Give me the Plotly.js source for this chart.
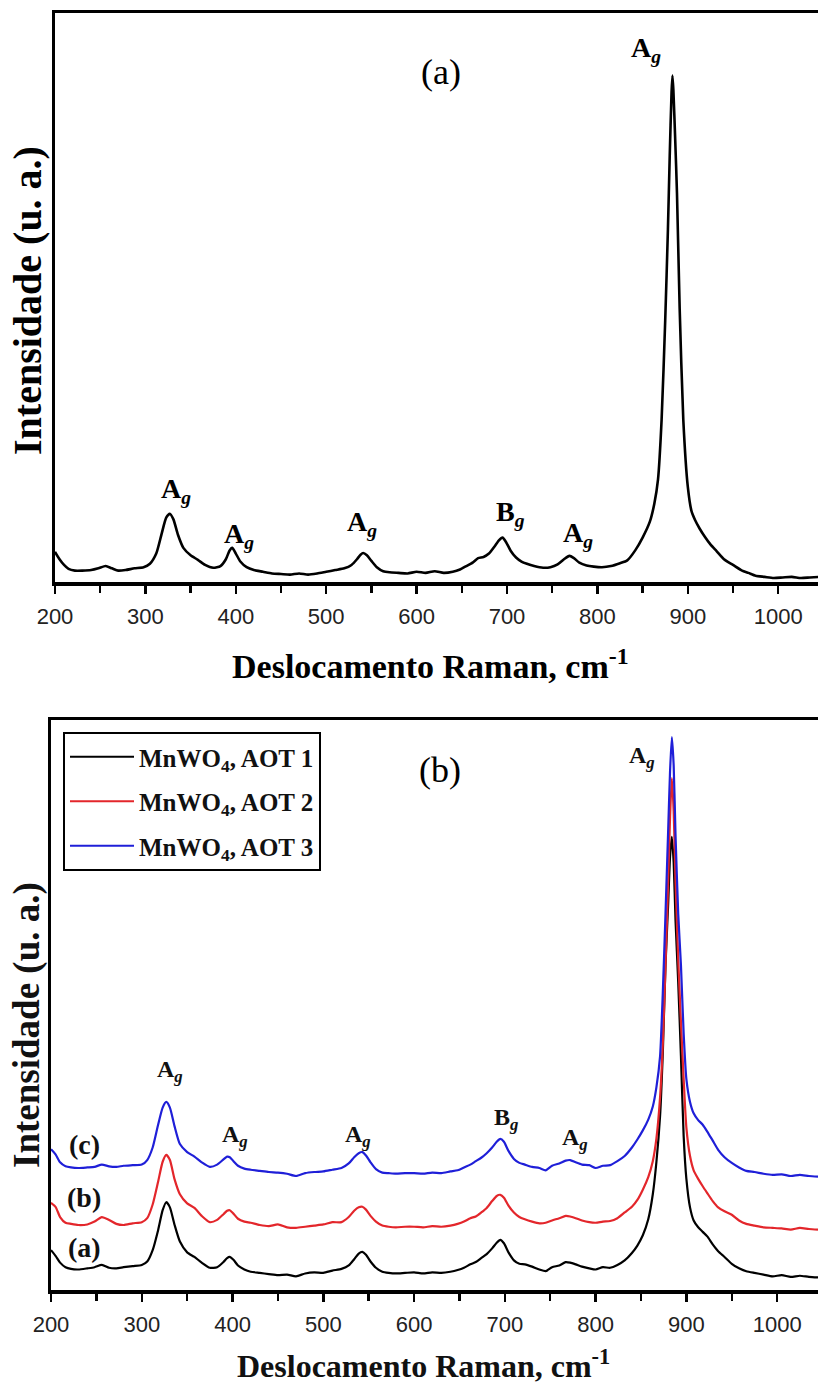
<!DOCTYPE html>
<html>
<head>
<meta charset="utf-8">
<script src="https://cdn.plot.ly/plotly-3.0.1.min.js"></script>
<style>
  html, body { margin: 0; padding: 0; background: #ffffff; }
  #chart { width: 818px; height: 1383px; }
</style>
</head>
<body>
<div id="chart"></div>
<script>
// Raman spectrum of MnWO4 (panel a)
const shiftTop = [200,205,210,215,222,230,240,248,256,263,270,278,288,298,305,312,318,323,327,331,336,342,350,358,366,375,383,389,393,396,400,405,412,420,430,440,450,460,470,480,490,500,510,520,528,534,538,541,545,550,556,563,570,580,590,600,610,620,630,640,648,655,662,668,674,680,686,691,695,699,704,710,716,722,730,740,748,756,763,769,774,780,788,796,805,815,825,833,842,850,858,863,867,871,875,878,880,882,883,884,886,888,891,895,900,904,908,913,919,925,932,940,950,960,967,975,985,995,1005,1015,1025,1035,1045];
const intensityTop = [5.3,4.0,3.0,2.3,2.0,2.0,2.1,2.4,2.8,2.4,2.0,2.1,2.4,2.6,3.2,5.0,8.5,11.3,12.0,11.0,8.3,6.0,4.7,3.9,3.0,2.5,2.8,4.0,5.5,6.0,5.0,3.6,2.6,2.1,1.8,1.5,1.4,1.3,1.5,1.3,1.5,1.8,2.1,2.4,3.0,4.0,4.8,5.1,4.7,3.7,2.6,1.9,1.7,1.6,1.5,1.8,1.6,1.9,1.6,1.8,2.2,2.8,3.4,4.2,4.4,5.0,6.2,7.3,7.8,7.0,5.5,4.3,3.6,3.2,2.8,2.5,2.6,3.1,4.0,4.6,4.2,3.4,2.9,2.7,2.6,2.8,3.3,3.8,5.6,7.8,10.6,13.8,18.0,28.5,46.0,62.0,75.0,86.0,89.0,86.5,78.0,68.4,48.0,28.5,16.7,12.5,10.9,9.4,7.9,6.6,5.4,4.0,3.0,2.0,1.6,1.1,0.9,0.7,0.8,0.9,0.7,0.8,0.9];

// Raman spectra of MnWO4 for the three AOT preparations (panel b)
const shiftBottom = [200,205,210,216,222,230,240,248,256,264,272,280,290,300,306,312,318,323,327,331,336,342,350,358,366,375,383,390,394,397,401,406,413,420,430,440,450,460,470,480,490,500,510,520,528,534,539,543,547,552,558,565,572,580,590,600,610,620,630,640,648,655,662,668,674,680,686,691,695,699,704,710,716,722,730,738,745,752,760,767,772,778,785,793,800,808,816,824,832,840,846,852,858,863,867,871,874,877,880,882,884,886,888,891,894,897,900,904,908,913,918,923,929,935,942,950,958,966,975,985,995,1005,1015,1025,1035,1045];
const intensityAOT1 = [7.0,6.0,4.8,4.0,3.7,3.6,3.8,4.0,4.4,3.9,3.8,4.0,4.2,4.4,5.0,7.0,10.5,14.0,15.4,14.5,11.5,8.5,6.6,5.8,4.8,3.9,4.0,4.9,5.6,5.8,5.3,4.3,3.6,3.2,3.0,2.8,2.6,2.7,2.4,2.9,3.1,3.0,3.4,3.7,4.3,5.4,6.4,6.7,6.2,5.0,3.9,3.2,3.0,2.9,3.0,3.1,2.9,3.1,3.0,3.2,3.5,3.9,4.5,4.9,5.6,6.3,7.3,8.3,8.8,8.2,6.6,5.2,4.6,4.5,4.1,3.6,3.3,4.0,4.3,4.9,4.8,4.5,4.1,3.8,3.6,4.0,3.9,4.4,5.2,6.5,7.8,9.6,12.4,16.8,22.5,30.5,41.5,57.0,68.0,76.0,79.5,75.0,65.0,54.0,41.0,27.0,19.5,14.5,12.2,11.0,10.2,9.4,8.0,6.8,5.8,4.6,3.8,3.3,3.0,2.7,2.4,2.6,2.3,2.5,2.3,2.2];
const intensityAOT2 = [15.3,14.6,12.8,11.8,11.6,11.4,11.5,12.0,12.8,12.3,11.6,11.4,11.7,11.9,12.6,15.0,19.0,22.5,23.7,22.8,19.5,16.8,15.2,14.4,13.0,11.9,12.3,13.3,13.9,14.0,13.4,12.5,12.0,11.8,11.4,11.2,11.5,11.0,10.9,11.1,11.3,11.5,11.9,11.9,12.8,13.9,14.5,14.6,14.1,13.0,12.0,11.3,11.1,11.0,11.1,11.1,11.0,11.2,11.1,11.3,11.6,12.0,12.6,12.9,13.6,14.4,15.6,16.5,16.7,16.2,14.8,13.6,12.8,12.4,12.0,11.7,11.8,12.2,12.6,13.0,12.9,12.6,12.2,11.9,11.8,12.0,12.1,12.6,13.6,14.6,15.8,17.6,19.8,22.6,26.6,33.8,43.0,57.0,72.0,83.0,89.8,84.0,72.0,58.0,47.0,37.0,28.5,23.5,21.0,19.5,18.2,17.0,15.6,14.5,13.8,13.2,12.2,11.6,11.3,11.0,10.9,10.8,10.6,10.9,10.7,10.6];
const intensityAOT3 = [24.7,23.8,22.4,21.7,21.5,21.4,21.5,21.6,22.0,21.7,21.6,21.8,21.9,22.0,22.8,25.0,29.0,32.0,33.0,32.0,28.8,25.6,24.2,23.4,22.4,21.6,22.0,22.9,23.4,23.3,22.6,21.8,21.3,21.1,20.9,20.7,20.6,20.4,20.0,20.5,20.7,20.8,21.1,21.4,22.2,23.3,24.0,24.2,23.6,22.4,21.2,20.6,20.5,20.4,20.5,20.5,20.4,20.6,20.5,20.8,21.0,21.5,22.0,22.6,23.2,24.0,25.0,26.0,26.5,26.0,24.4,23.0,22.3,22.0,21.6,21.4,21.0,21.8,22.2,22.7,22.8,22.4,22.0,21.9,21.4,21.8,21.9,22.6,23.5,25.0,26.4,28.0,29.9,32.2,35.6,41.0,52.0,66.0,81.0,91.0,97.0,92.0,80.0,66.0,57.0,45.0,37.0,33.0,31.0,29.8,29.0,27.8,26.2,24.6,23.3,22.3,21.5,20.9,20.7,20.4,20.2,20.3,20.0,20.2,20.0,19.9];

const seriesNames = ['MnWO<sub>4</sub>, AOT 1', 'MnWO<sub>4</sub>, AOT 2', 'MnWO<sub>4</sub>, AOT 3'];
const seriesColors = ['#000000', '#e3262b', '#1f1fd8'];

const tickValues = [200, 300, 400, 500, 600, 700, 800, 900, 1000];
const tickLabels = ['200', '300', '400', '500', '600', '700', '800', '900', '1000'];
const minorTickValues = [250, 350, 450, 550, 650, 750, 850, 950, 1050];

// Band assignments: [label, wavenumber of label centre, intensity of label centre]
const bandLabelsTop = [
  ['<b>A</b><sub><b><i>g</i></b></sub>', 334, 16.0],
  ['<b>A</b><sub><b><i>g</i></b></sub>', 404, 8.2],
  ['<b>A</b><sub><b><i>g</i></b></sub>', 540, 10.2],
  ['<b>B</b><sub><b><i>g</i></b></sub>', 704, 12.0],
  ['<b>A</b><sub><b><i>g</i></b></sub>', 778, 8.3],
  ['<b>A</b><sub><b><i>g</i></b></sub>', 854, 93.5]
];
const bandLabelsBottom = [
  ['<b>A</b><sub><b><i>g</i></b></sub>', 331, 38.5],
  ['<b>A</b><sub><b><i>g</i></b></sub>', 403, 27.0],
  ['<b>A</b><sub><b><i>g</i></b></sub>', 538, 27.0],
  ['<b>B</b><sub><b><i>g</i></b></sub>', 701, 30.0],
  ['<b>A</b><sub><b><i>g</i></b></sub>', 777, 26.5],
  ['<b>A</b><sub><b><i>g</i></b></sub>', 851, 93.5]
];
const curveLabels = ['<b>(c)</b>', '<b>(b)</b>', '<b>(a)</b>'];
const curveLabelLevels = [25.6, 16.2, 7.5];

const W = 818, H = 1383;
const px = v => v / W;
const py = v => 1 - v / H;

const serif = 'Liberation Serif, Times New Roman, serif';
const sans = 'Liberation Sans, Arial, sans-serif';

function xAxisStyle(domainLeft, rangeEnd, anchor) {
  return {
    domain: [domainLeft, 1],
    anchor: anchor,
    range: [200, rangeEnd],
    tickmode: 'array',
    tickvals: tickValues,
    ticktext: tickLabels,
    ticks: 'outside',
    ticklen: 8,
    tickwidth: 2.5,
    tickcolor: '#000',
    tickfont: { family: sans, size: 22, color: '#222' },
    ticklabelstandoff: 4,
    minor: { tickmode: 'array', tickvals: minorTickValues, ticks: 'outside', ticklen: 7, tickwidth: 2.5, tickcolor: '#000' },
    showline: true,
    linewidth: 3.5,
    linecolor: '#000',
    mirror: true,
    showgrid: false,
    zeroline: false,
    automargin: false
  };
}
function yAxisStyle(domain, anchor) {
  return {
    domain: domain,
    anchor: anchor,
    range: [0, 100],
    showticklabels: false,
    ticks: '',
    showline: true,
    linewidth: 3.5,
    linecolor: '#000',
    showgrid: false,
    zeroline: false,
    automargin: false
  };
}

const traces = [
  {
    x: shiftTop, y: intensityTop, xaxis: 'x', yaxis: 'y',
    type: 'scatter', mode: 'lines', showlegend: false,
    line: { color: '#000', width: 2.6, shape: 'spline', smoothing: 0.6 }
  }
];
const bottomSeries = [intensityAOT1, intensityAOT2, intensityAOT3];
bottomSeries.forEach((vals, i) => {
  traces.push({
    x: shiftBottom, y: vals, xaxis: 'x2', yaxis: 'y2',
    type: 'scatter', mode: 'lines', name: seriesNames[i], legendgroup: 'g' + i,
    line: { color: seriesColors[i], width: 2.2, shape: 'spline', smoothing: 0.6 }
  });
});

const annotations = [];
bandLabelsTop.forEach(b => annotations.push({
  text: b[0], x: b[1], y: b[2], xref: 'x', yref: 'y', showarrow: false,
  xanchor: 'center', yanchor: 'middle', font: { family: serif, size: 28, color: '#000' }
}));
bandLabelsBottom.forEach(b => annotations.push({
  text: b[0], x: b[1], y: b[2], xref: 'x2', yref: 'y2', showarrow: false,
  xanchor: 'center', yanchor: 'middle', font: { family: serif, size: 24, color: '#111' }
}));
curveLabels.forEach((t, i) => annotations.push({
  text: t, x: px(84), y: curveLabelLevels[i], xref: 'paper', yref: 'y2', showarrow: false,
  xanchor: 'center', yanchor: 'middle', font: { family: serif, size: 28, color: '#111' }
}));
// Panel letters
annotations.push({ text: '(a)', x: px(441), y: py(72), xref: 'paper', yref: 'paper', showarrow: false,
  xanchor: 'center', yanchor: 'middle', font: { family: serif, size: 36, color: '#000' } });
annotations.push({ text: '(b)', x: px(440), y: py(770), xref: 'paper', yref: 'paper', showarrow: false,
  xanchor: 'center', yanchor: 'middle', font: { family: serif, size: 36, color: '#000' } });
// Axis titles
const xTitle = '<b>Deslocamento Raman, cm<sup>-1</sup></b>';
const yTitle = '<b>Intensidade (u. a.)</b>';
annotations.push({ text: xTitle, x: px(431), y: py(664), xref: 'paper', yref: 'paper', showarrow: false,
  xanchor: 'center', yanchor: 'middle', font: { family: serif, size: 34, color: '#000' } });
annotations.push({ text: xTitle, x: px(424), y: py(1364), xref: 'paper', yref: 'paper', showarrow: false,
  xanchor: 'center', yanchor: 'middle', font: { family: serif, size: 32, color: '#111' } });
annotations.push({ text: yTitle, x: px(27), y: py(301), xref: 'paper', yref: 'paper', showarrow: false, textangle: -90,
  xanchor: 'center', yanchor: 'middle', font: { family: serif, size: 40, color: '#000' } });
annotations.push({ text: yTitle, x: px(27), y: py(1025), xref: 'paper', yref: 'paper', showarrow: false, textangle: -90,
  xanchor: 'center', yanchor: 'middle', font: { family: serif, size: 37, color: '#111' } });

const layout = {
  width: W, height: H,
  margin: { l: 0, r: 0, t: 0, b: 0, pad: 0 },
  paper_bgcolor: '#fff', plot_bgcolor: '#fff',
  xaxis: xAxisStyle(px(55), 1044, 'y'),
  yaxis: yAxisStyle([py(582), py(13)], 'x'),
  xaxis2: xAxisStyle(px(51), 1045, 'y2'),
  yaxis2: yAxisStyle([py(1290), py(720)], 'x2'),
  showlegend: true,
  legend: {
    x: px(63), y: py(732), xanchor: 'left', yanchor: 'top',
    bgcolor: '#fff', bordercolor: '#000', borderwidth: 2,
    font: { family: serif, size: 25, color: '#111', weight: 'bold' },
    itemwidth: 64, tracegroupgap: 9, traceorder: 'grouped'
  },
  annotations: annotations
};

Plotly.newPlot('chart', traces, layout, { staticPlot: true, displayModeBar: false });
</script>
</body>
</html>
